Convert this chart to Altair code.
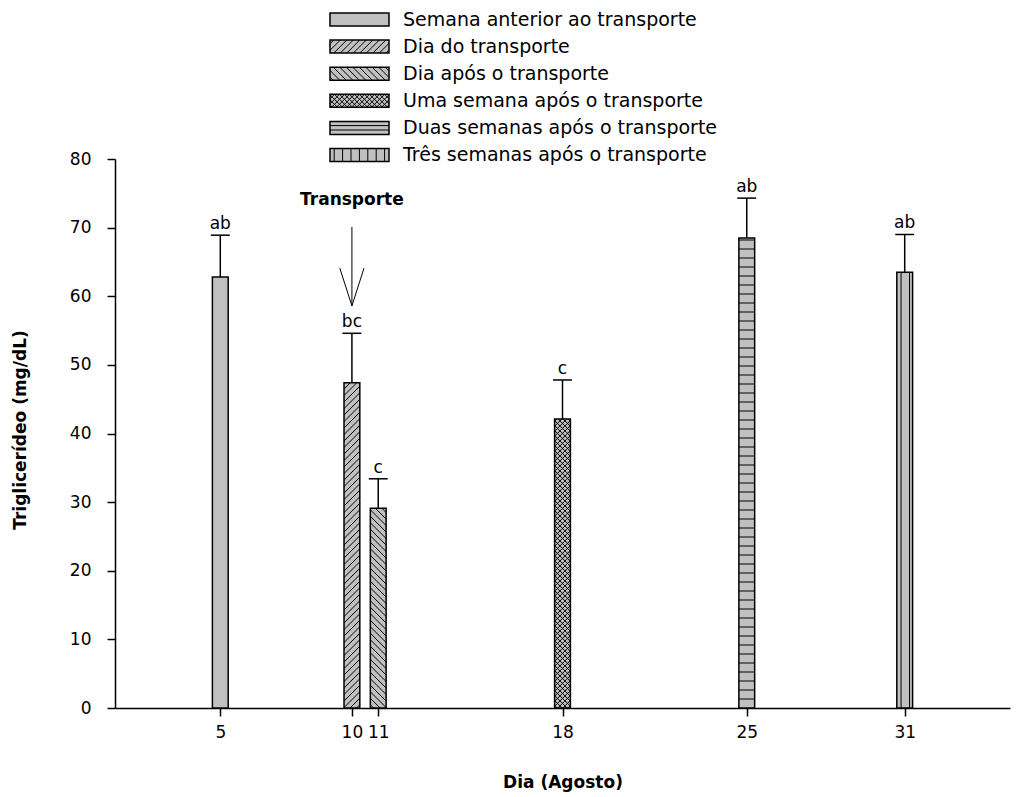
import altair as alt
import numpy as np
import pandas as pd

# Sampling days (August) and triglyceride means with their standard errors
days = [5, 10, 11, 18, 25, 31]
means = [62.8, 47.4, 29.1, 42.1, 68.5, 63.5]
errors = [6.1, 7.2, 4.3, 5.7, 5.8, 5.5]
letters = ["ab", "bc", "c", "c", "ab", "ab"]
groups = [
    "Semana anterior ao transporte",
    "Dia do transporte",
    "Dia após o transporte",
    "Uma semana após o transporte",
    "Duas semanas após o transporte",
    "Três semanas após o transporte",
]
patterns = ["solid", "fwd", "back", "cross", "horiz", "vert"]
y_ticks = [0, 10, 20, 30, 40, 50, 60, 70, 80]

# Geometry of the plotting area
X_DOMAIN = [1, 35]
Y_DOMAIN = [0, 80]
W, H = 895, 549
PAD_L, PAD_T = 115, 159
PAD_R, PAD_B = 1018 - PAD_L - W, 797 - PAD_T - H
BAR_HALF = 0.3      # half bar width, in days
CAP_HALF = 0.36     # half error-cap width, in days
FILL = "#c0c0c0"
FONT = "DejaVu Sans"

ppd = W / (X_DOMAIN[1] - X_DOMAIN[0])   # pixels per day
ppu = H / (Y_DOMAIN[1] - Y_DOMAIN[0])   # pixels per mg/dL

BAR_STEP = {"fwd": 6.5, "back": 6.5, "cross": 5.0, "horiz": 9.0, "vert": 8.5}
KEY_STEP = {"fwd": 6.5, "back": 6.5, "cross": 5.0, "horiz": 4.4, "vert": 8.4}


def hatch(u0, u1, v0, v1, kind, step):
    """Hatch segments for a rectangle given in pixel units (v pointing up)."""
    w, h = u1 - u0, v1 - v0
    segs = []
    if kind in ("fwd", "cross"):
        for c in np.arange(-w + step / 2, h, step):
            ua, ub = max(0.0, -c), min(w, h - c)
            if ub > ua:
                segs.append((u0 + ua, v0 + ua + c, u0 + ub, v0 + ub + c))
    if kind in ("back", "cross"):
        for c in np.arange(step / 2, w + h, step):
            ua, ub = max(0.0, c - h), min(w, c)
            if ub > ua:
                segs.append((u0 + ua, v0 + c - ua, u0 + ub, v0 + c - ub))
    if kind == "horiz":
        for v in np.arange(v0 + step, v1 - 0.5, step):
            segs.append((u0, v, u1, v))
    if kind == "vert":
        for u in np.arange(u0 + step / 2, u1, step):
            segs.append((u, v0, u, v1))
    return segs


def to_data(seg):
    ua, va, ub, vb = seg
    return {
        "xa": X_DOMAIN[0] + ua / ppd, "ya": va / ppu,
        "xb": X_DOMAIN[0] + ub / ppd, "yb": vb / ppu,
    }


def px_x(px):
    return X_DOMAIN[0] + (px - PAD_L) / ppd


def px_y(py):
    return (PAD_T + H - py) / ppu


# Bars
bars = pd.DataFrame({
    "day": days, "mean": means, "err": errors, "letter": letters,
    "group": groups, "pattern": patterns,
})
bars["x0"] = bars["day"] - BAR_HALF
bars["x1"] = bars["day"] + BAR_HALF
bars["zero"] = 0.0
bars["top"] = bars["mean"] + bars["err"]
bars["c0"] = bars["day"] - CAP_HALF
bars["c1"] = bars["day"] + CAP_HALF

hatch_rows = []
for d, m, p in zip(days, means, patterns):
    if p == "solid":
        continue
    u0 = (d - BAR_HALF - X_DOMAIN[0]) * ppd
    u1 = (d + BAR_HALF - X_DOMAIN[0]) * ppd
    for s in hatch(u0, u1, 0.0, m * ppu, p, BAR_STEP[p]):
        hatch_rows.append(to_data(s))

# Key (legend) drawn as marks above the plot
KEY_X0, KEY_X1, KEY_TEXT_X = 330, 389, 403
KEY_ROW0, KEY_ROW_GAP, KEY_HALF_H = 19.5, 27.1, 6.5
key_rows = []
for i, (g, p) in enumerate(zip(groups, patterns)):
    yc = KEY_ROW0 + KEY_ROW_GAP * i
    key_rows.append({
        "x0": px_x(KEY_X0), "x1": px_x(KEY_X1),
        "y0": px_y(yc + KEY_HALF_H), "y1": px_y(yc - KEY_HALF_H),
        "tx": px_x(KEY_TEXT_X), "ty": px_y(yc), "label": g,
    })
    if p != "solid":
        u0, u1 = KEY_X0 - PAD_L, KEY_X1 - PAD_L
        v0, v1 = PAD_T + H - (yc + KEY_HALF_H), PAD_T + H - (yc - KEY_HALF_H)
        for s in hatch(u0, u1, v0, v1, p, KEY_STEP[p]):
            hatch_rows.append(to_data(s))
key = pd.DataFrame(key_rows)
hatches = pd.DataFrame(hatch_rows)

# Transport arrow at day 10
arrow_day = 10
arrow_top, arrow_tip, arrow_arm_y, arrow_arm_dx = 70.1, 58.6, 64.1, 0.46
arrow = pd.DataFrame({
    "xa": [arrow_day, arrow_day - arrow_arm_dx, arrow_day + arrow_arm_dx],
    "ya": [arrow_top, arrow_arm_y, arrow_arm_y],
    "xb": [arrow_day, arrow_day, arrow_day],
    "yb": [arrow_tip, arrow_tip, arrow_tip],
})
arrow_label = pd.DataFrame({"x": [arrow_day], "y": [74.0], "text": ["Transporte"]})

xs = alt.Scale(domain=X_DOMAIN, nice=False, zero=False)
ys = alt.Scale(domain=Y_DOMAIN, nice=False, zero=False)
ax_x = alt.Axis(
    values=days, title="Dia (Agosto)", tickSize=8, labelPadding=8,
    labelOverlap=False, labelFlush=False, grid=False,
    titleY=74, titleBaseline="middle",
)
ax_y = alt.Axis(
    values=y_ticks, title="Triglicerídeo (mg/dL)", tickSize=8, labelPadding=16,
    grid=False, titleX=-95, titleY=H / 2 - 4, titleBaseline="middle",
)


def X(f):
    return alt.X(f"{f}:Q", scale=xs, axis=ax_x)


def Y(f):
    return alt.Y(f"{f}:Q", scale=ys, axis=ax_y)


bar_fill = alt.Chart(bars).mark_rect(fill=FILL, stroke=None).encode(
    x=X("x0"), x2="x1", y=Y("zero"), y2="mean"
)
bar_hatch = alt.Chart(hatches).mark_rule(color="black", strokeWidth=1).encode(
    x=X("xa"), y=Y("ya"), x2="xb", y2="yb"
)
bar_outline = alt.Chart(bars).mark_rect(
    fillOpacity=0, stroke="black", strokeWidth=1.5
).encode(x=X("x0"), x2="x1", y=Y("zero"), y2="mean")

err_line = alt.Chart(bars).mark_rule(color="black", strokeWidth=1.5).encode(
    x=X("day"), y=Y("mean"), y2="top"
)
err_cap = alt.Chart(bars).mark_rule(color="black", strokeWidth=1.5).encode(
    x=X("c0"), x2="c1", y=Y("top")
)
sig_text = alt.Chart(bars).mark_text(
    font=FONT, fontSize=17, baseline="bottom", dy=-2, color="black"
).encode(x=X("day"), y=Y("top"), text="letter:N")

arrow_lines = alt.Chart(arrow).mark_rule(color="black", strokeWidth=1).encode(
    x=X("xa"), y=Y("ya"), x2="xb", y2="yb"
)
arrow_text = alt.Chart(arrow_label).mark_text(
    font=FONT, fontSize=17, fontWeight="bold", baseline="middle", color="black"
).encode(x=X("x"), y=Y("y"), text="text:N")

key_fill = alt.Chart(key).mark_rect(fill=FILL, stroke=None).encode(
    x=X("x0"), x2="x1", y=Y("y0"), y2="y1"
)
key_outline = alt.Chart(key).mark_rect(
    fillOpacity=0, stroke="black", strokeWidth=1.5
).encode(x=X("x0"), x2="x1", y=Y("y0"), y2="y1")
key_text = alt.Chart(key).mark_text(
    font=FONT, fontSize=19, align="left", baseline="middle", color="black"
).encode(x=X("tx"), y=Y("ty"), text="label:N")

chart = alt.layer(
    bar_fill, key_fill, bar_hatch, bar_outline, key_outline,
    err_line, err_cap, sig_text, arrow_lines, arrow_text, key_text,
).properties(
    width=W, height=H,
    autosize=alt.AutoSizeParams(type="none"),
    padding={"left": PAD_L, "top": PAD_T, "right": PAD_R, "bottom": PAD_B},
    background="white",
).configure_view(
    stroke=None
).configure_axis(
    domainColor="black", domainWidth=1.5, tickColor="black", tickWidth=1.5,
    labelColor="black", labelFont=FONT, labelFontSize=17,
    titleColor="black", titleFont=FONT, titleFontSize=17, titleFontWeight="bold",
)

chart.save("out.html", embed_options={"renderer": "svg", "actions": False})
